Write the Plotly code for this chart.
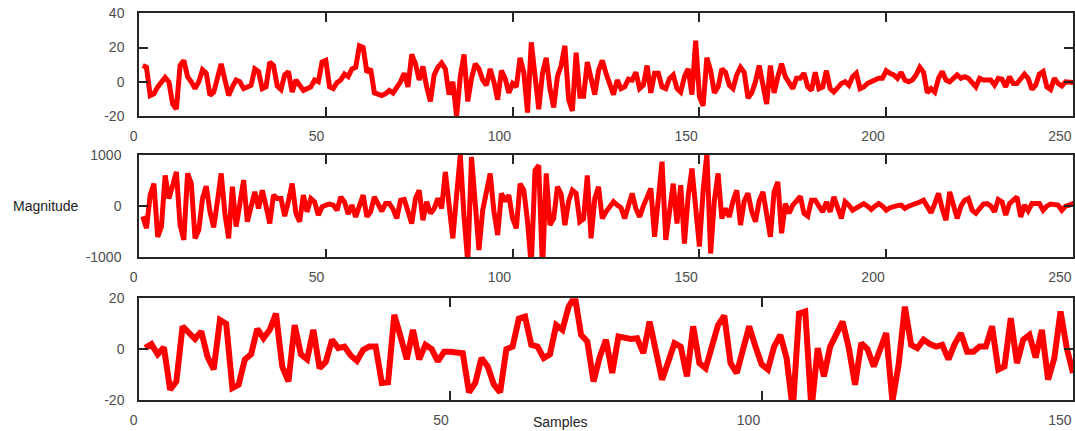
import plotly.graph_objects as go

# ---------------- data ----------------
top_values = [
    9.5, 8.5, -8, -7, -3, 0, 2.5, 0, -13, -16,
    9.5, 12.5, 3, 0, -4, 0, 7, 5, -8, -6,
    2, 10.5, 1, -8, -3, 1, 0, -4, -3, -2,
    7.5, 6, -4, -3, 11.5, 9.5, -2.5, -4.5, 4, 6,
    -6, 1, -2, -5, -4, -3, 1, 0, 11.5, 12.5,
    -3, -4, -0.5, 1, 4.5, 3, 7.5, 8.5, 21, 20,
    5.5, 7.5, -6.5, -7.5, -8, -7, -5, -6.5, -3, 0,
    5, -3, 16, 10.5, 1, 9, -3, -11.5, 4, 8.5,
    11, 7.5, -7.5, 0, -20, 3, 16, -11.5, 2, 10.5,
    7.5, 1, -2, 7.5, 0, -10.5, 6.5, 2, -6.5, -1,
    -3, 14, 5.5, -18, 23, 4, -16, 5, 14, -4,
    -15, 3, 9.5, 21, -10.5, -17, 17, -8.5, -8.5, 11.5,
    1, -7.5, 6.5, 12.5, 5, -1, -7.5, 1, -4, -3,
    1.5, 1, 5.5, -4, -2, 9.5, -6.5, 5, 5, -3,
    -4, 2, 4, -4, -6, 3, 7.5, -7.5, 24, -8.5,
    -14, 14, 6.5, -6.5, -3, 7.5, 5.5, -2, -4, 4,
    8.5, 5.5, -9.5, -6.5, 0, 9.5, -2, -13, 9.5, -6.5,
    3, 10.5, 3, -1, -4, 2, 2, 5, -3, -5,
    5.5, -4, -3, 6.5, -4, -6, -3, -1, 0, -2,
    3, 5, -4, -3, -1, 0, 1, 2, 2, 6.5,
    5, 4, 2, 5.5, 1, 0, 1, 4, 8.5, 5.5,
    -6.5, -4, -6, 2, 6, 1, 0, 2, 4, 2,
    3, 2, -1, -3, 2, 1, 1, 1, -2, 2,
    1.5, -3, 3, -1, -1, 2, 4.5, 2, -4.5, -2,
    4.5, 6, -3, -4.5, 2, -1, -2.5, 0, 0, -0.5,
    -1, -1,
]

mid_values = [
    -200, -430, 215, 440, -600, -400, 600, 150, 400, 670,
    -370, -660, 640, 440, -630, -470, 150, 390, -110, -415,
    100, 640, -150, -630, 380, -400, 50, 510, -305, 0,
    280, -45, 310, 0, -340, 215, 150, 150, -195, 100,
    440, -140, -305, 215, -110, 150, 85, -175, -13, 20,
    40, 20, -80, 180, 85, -155, 20, -210, 0, 215,
    -210, -110, 180, 50, -100, 50, 50, -60, -240, 115,
    130, -100, -340, 150, 310, -275, 85, -140, -50, 150,
    -45, 670, 100, -630, 200, 1000, -200, -1100, 960, 100,
    -860, -80, 300, 640, -100, -565, 250, 100, 215, -240,
    -435, 440, 310, -300, -1180, 700, 800, -1250, 640, -370,
    -240, 380, 235, -370, 100, 310, 250, -305, -250, 600,
    -630, 150, 380, -240, -110, 0, 85, 20, -30, -240,
    50, 250, -50, -210, 0, 150, 345, -600, 200, 870,
    -660, 0, 440, -340, 410, -730, 200, 735, 0, -790,
    300, 1030, -925, 100, 640, -240, -45, -210, 100, 310,
    -370, 100, 250, -100, -305, 100, 280, -200, -600, 280,
    475, -530, 50, -140, 20, 100, 195, -140, -195, 115,
    115, 0, -110, 85, -110, 180, 0, -240, 85, 20,
    -80, -45, 0, 50, 0, -65, 0, 50, 0, -80,
    -30, 0, 10, 20, -45, 0, 20, 40, 80, 115,
    0, -130, 50, 250, -50, -275, 280, 0, -240, 0,
    115, 150, -80, -140, -50, 40, 50, 0, -110, 130,
    85, -175, 50, 130, 180, -210, 20, -90, 50, 50,
    50, -80, 0, 40, 30, 20, -80, 0, 20, 50,
    30,
]

bot_values = [
    0.5, 2, -2, 0.7, -16, -12.7, 9, 6.3, 4, 7,
    -3, -8, 11.5, 10, -15.3, -14, -4, -2, 8, 4.3,
    7.6, 14, -6.8, -12.7, 9.5, -2, -4, 7.6, -7.5, -5,
    3.7, 0.4, 1, -2.5, -4.6, -0.3, 1, 1, -13.3, -13,
    13.5, 5, -4, 7.6, -4, 1.7, 0, -4.8, -1, -1,
    -1.6, -1.6, -17, -13.3, -3.5, -6.8, -14, -17, 0, 1,
    12, 12.8, 1.7, 1, -3.5, -2, 9.5, 7.6, 16.7, 20.7,
    5.6, 3, -12.7, -3, 3.7, -9.4, 5, 4.5, 4, 4.3,
    -1.6, 10.8, 0, -12, -5, 2.4, 1, -10.7, 9, -5.5,
    -7.5, 2, 9.5, 13.2, -5.5, -9.4, 0, 9, 1, -6,
    -8, 1, 5.6, -3.5, -23.8, 14, 14.8, -23.8, 0.4, -10.7,
    1, 6.3, 10.8, 0.4, -14, 2.4, 0, -6.8, 0, 6.3,
    -20.5, -6, 16.7, 1.7, 0.4, 3.7, 2, 1, 1.7, -4,
    2, 6.3, -1, -1, 1, 1, 9, -8, -6.8, 12.2,
    -5.5, 3.7, 5.6, -3.3, 7.6, -12, -3.5, 14.8, 0.4, -9.4,
]

top_x = list(range(1, len(top_values) + 1))
mid_x = list(range(1, len(mid_values) + 1))
bot_x = list(range(1, len(bot_values) + 1))

top_xticks = [0, 50, 100, 150, 200, 250]
bot_xticks = [0, 50, 100, 150]
top_yticks = [-20, 0, 20, 40]
mid_yticks = [-1000, 0, 1000]
bot_yticks = [-20, 0, 20]

y_label = "Magnitude"
x_label = "Samples"

# ---------------- layout geometry ----------------
W, H = 1075, 431
ML, MR, MT, MB = 139, 2, 13, 31
PW = W - ML - MR
PH = H - MT - MB


def px_x(px):
    return (px - ML) / PW


def px_y(py):
    return (H - MB - py) / PH


def dom(py_bottom, py_top):
    return [max(0.0, min(1.0, px_y(py_bottom))), max(0.0, min(1.0, px_y(py_top)))]


def labels(vals):
    return [str(v) for v in vals]  # plain hyphen minus, as in the reference


RED = "#ff0000"
LINE_W = 5

fig = go.Figure()
fig.add_trace(go.Scatter(x=top_x, y=top_values, mode="lines",
                         line=dict(color=RED, width=LINE_W), xaxis="x", yaxis="y"))
fig.add_trace(go.Scatter(x=mid_x, y=mid_values, mode="lines",
                         line=dict(color=RED, width=LINE_W), xaxis="x2", yaxis="y2"))
fig.add_trace(go.Scatter(x=bot_x, y=bot_values, mode="lines",
                         line=dict(color=RED, width=LINE_W + 1), xaxis="x3", yaxis="y3"))

tickfont = dict(family="Liberation Sans, Arial, sans-serif", size=14, color="#4d4d4d")
common = dict(showline=True, linecolor="#262626", linewidth=1.5, mirror="allticks",
              ticks="inside", ticklen=9, tickwidth=1.5, tickcolor="#262626",
              showgrid=False, zeroline=False, tickfont=tickfont, automargin=False)
xcommon = dict(common, ticklabelposition="outside left", ticklabelstandoff=6)
ycommon = dict(common, ticklabelstandoff=10)

dom_top = dom(116, 13.3)
dom_mid = dom(257.3, 155)
dom_bot = dom(400.3, 298.3)

label_font = dict(family="Liberation Sans, Arial, sans-serif", size=14, color="#222222")

fig.update_layout(
    width=W, height=H,
    margin=dict(l=ML, r=MR, t=MT, b=MB, autoexpand=False),
    paper_bgcolor="white", plot_bgcolor="white",
    showlegend=False,
    xaxis=dict(xcommon, domain=[0, 1], range=[0, 250], tickvals=top_xticks,
               ticktext=labels(top_xticks), anchor="y"),
    yaxis=dict(ycommon, domain=dom_top, range=[-20, 40], tickvals=top_yticks,
               ticktext=labels(top_yticks), anchor="x"),
    xaxis2=dict(xcommon, domain=[0, 1], range=[0, 250], tickvals=top_xticks,
                ticktext=labels(top_xticks), anchor="y2"),
    yaxis2=dict(ycommon, domain=dom_mid, range=[-1000, 1000], tickvals=mid_yticks,
                ticktext=labels(mid_yticks), anchor="x2", ticklabelstandoff=13),
    xaxis3=dict(xcommon, domain=[0, 1], range=[0, 150], tickvals=bot_xticks,
                ticktext=labels(bot_xticks), anchor="y3"),
    yaxis3=dict(ycommon, domain=dom_bot, range=[-20, 20], tickvals=bot_yticks,
                ticktext=labels(bot_yticks), anchor="x3"),
    annotations=[
        dict(text=y_label, xref="paper", yref="paper", x=px_x(46), y=px_y(206),
             showarrow=False, xanchor="center", yanchor="middle", font=label_font),
        dict(text=x_label, xref="paper", yref="paper", x=px_x(559.5), y=px_y(422),
             showarrow=False, xanchor="center", yanchor="middle", font=label_font),
    ],
)

fig.write_html("out.html",
               config={"displayModeBar": False},
               post_script="document.body.style.margin='0px';document.body.style.overflow='hidden';")
